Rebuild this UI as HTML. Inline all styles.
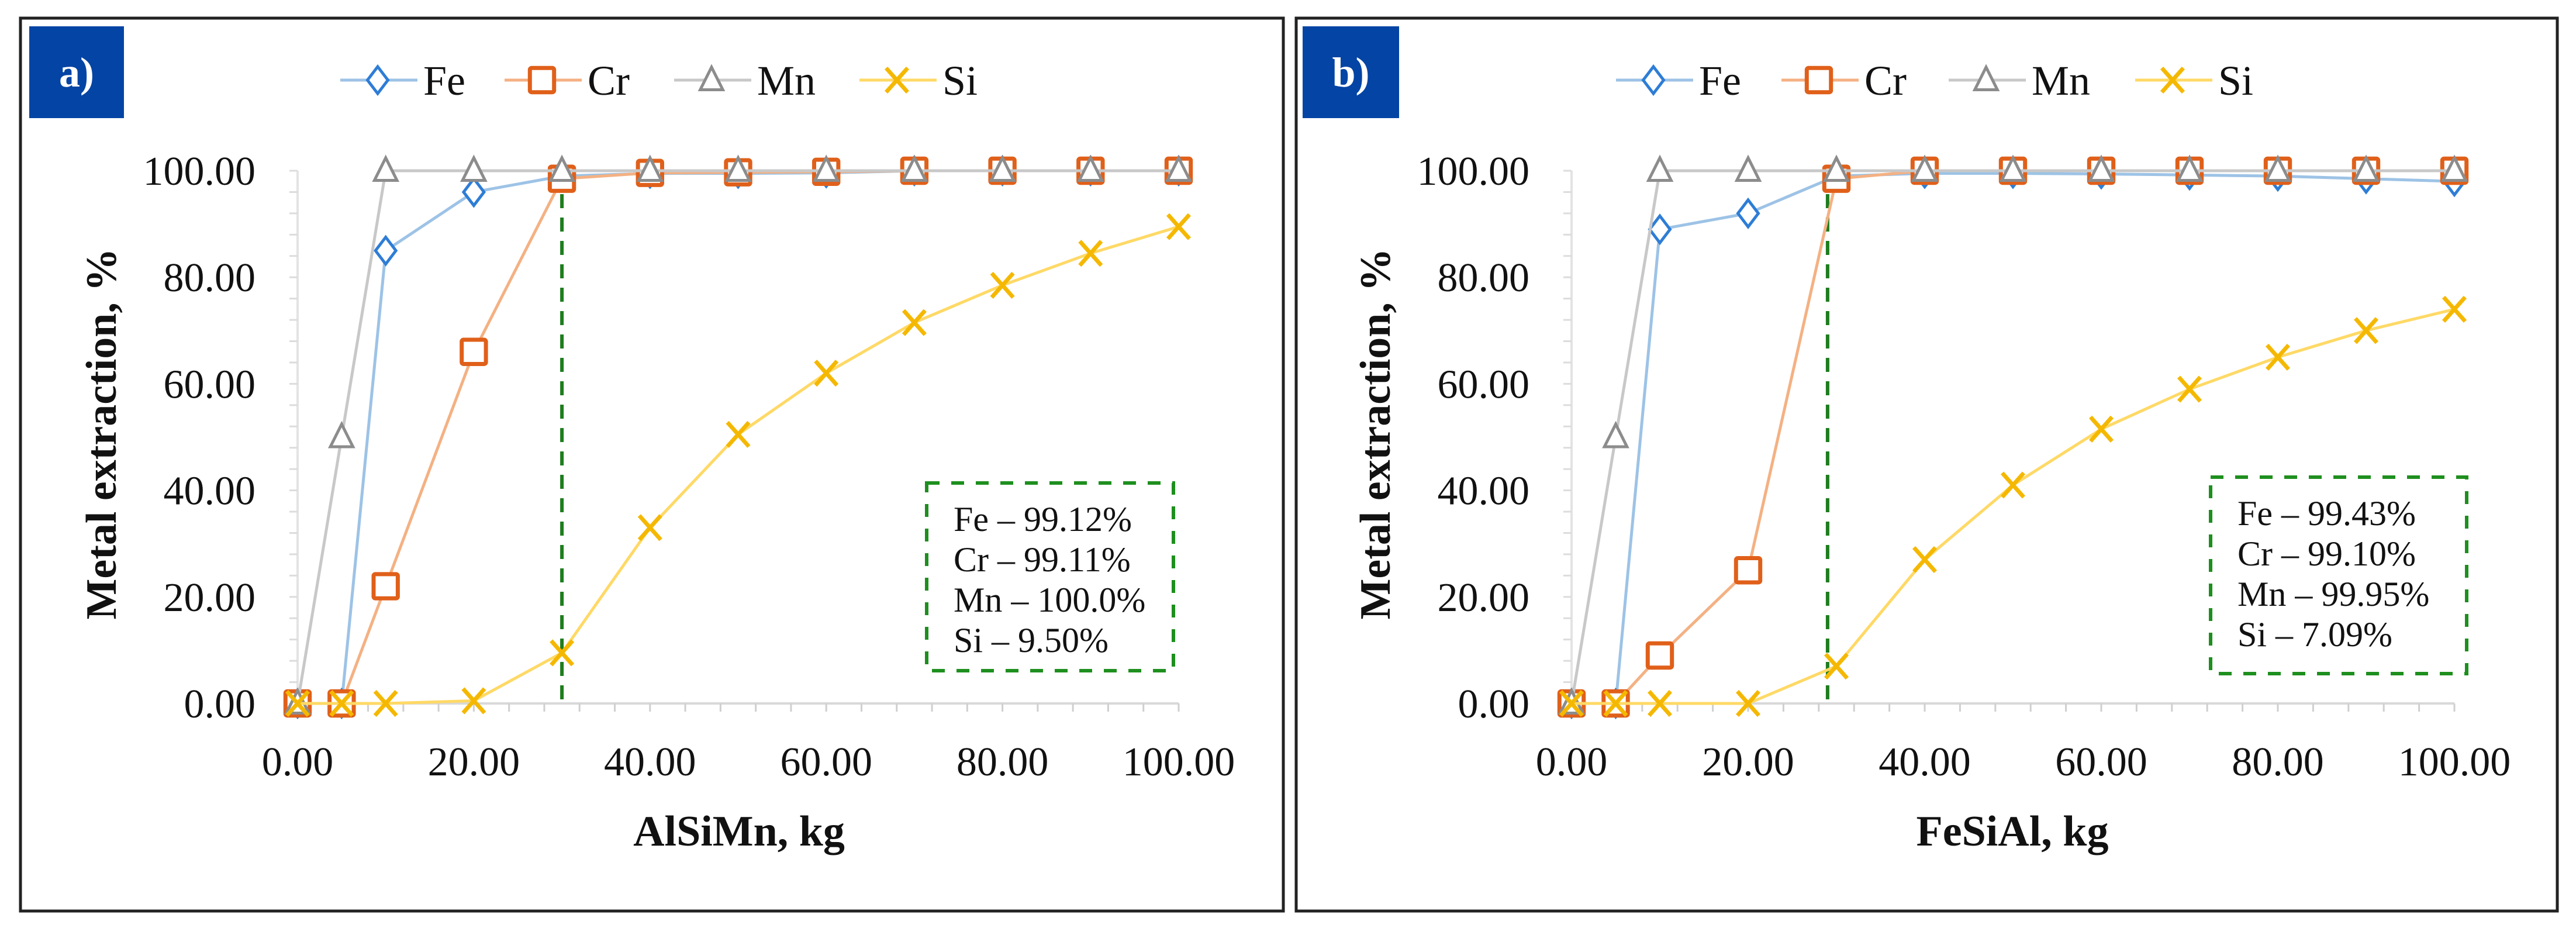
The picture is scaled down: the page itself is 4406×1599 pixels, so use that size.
<!DOCTYPE html>
<html><head><meta charset="utf-8"><style>
html,body{margin:0;padding:0;background:#fff;}
svg{display:block;font-family:"Liberation Serif",serif;}
</style></head><body>
<svg id="chart" width="4406" height="1599" viewBox="0 0 4406 1599" xmlns="http://www.w3.org/2000/svg"></svg>
<script>
const xValues = [0,5,10,20,30,40,50,60,70,80,90,100];
const feA = [0,0,85,96,99,99.5,99.5,99.6,100,100,100,100];
const crA = [0,0,22,66,98.5,99.6,99.7,99.8,100,100,100,100];
const mnA = [0,50,100,100,100,100,100,100,100,100,100,100];
const siA = [0,0,0,0.5,9.5,33,50.5,62,71.5,78.5,84.5,89.5];
const feB = [0,0,89,92,99,99.5,99.5,99.4,99.2,99,98.5,98];
const crB = [0,0,9,25,98.5,100,100,100,100,100,100,100];
const mnB = [0,50,100,100,100,100,100,100,100,100,100,100];
const siB = [0,0,0,0,7,27,41,51.5,59,65,70,74];
const tickLabels = ["0.00","20.00","40.00","60.00","80.00","100.00"];
const tickValues = [0,20,40,60,80,100];
const seriesNames = ["Fe","Cr","Mn","Si"];
const notesA = ["Fe – 99.12%","Cr – 99.11%","Mn – 100.0%","Si – 9.50%"];
const notesB = ["Fe – 99.43%","Cr – 99.10%","Mn – 99.95%","Si – 7.09%"];
const markerLineA = [30];
const markerLineB = [29];

const NS="http://www.w3.org/2000/svg";
const svg=document.getElementById('chart');
function mk(tag,attrs,parent,text){const e=document.createElementNS(NS,tag);for(const k in attrs)e.setAttribute(k,attrs[k]);if(text!==undefined)e.textContent=text;(parent||svg).appendChild(e);return e;}

const styles={
 Fe:{line:"#9dc3e6",mark:"#2e7dd6",shape:"diamond"},
 Cr:{line:"#f4b183",mark:"#e0601a",shape:"square"},
 Mn:{line:"#c8c8c8",mark:"#8c8c8c",shape:"triangle"},
 Si:{line:"#ffd966",mark:"#f5b800",shape:"x"}
};
function marker(g,shape,cx,cy,color,s){
 let e;
 if(shape==="diamond") e=mk('polygon',{points:`${cx},${cy-s*0.5} ${cx+s*0.38},${cy} ${cx},${cy+s*0.5} ${cx-s*0.38},${cy}`,fill:"#fff",stroke:color,'stroke-width':5},g);
 else if(shape==="square") e=mk('rect',{x:cx-s*0.45,y:cy-s*0.45,width:s*0.9,height:s*0.9,fill:"#fff",stroke:color,'stroke-width':7,rx:3},g);
 else if(shape==="triangle") e=mk('polygon',{points:`${cx},${cy-s*0.48} ${cx+s*0.42},${cy+s*0.36} ${cx-s*0.42},${cy+s*0.36}`,fill:"#fff",stroke:color,'stroke-width':5},g);
 else { e=mk('path',{d:`M${cx-s*0.4},${cy-s*0.45}L${cx+s*0.4},${cy+s*0.45}M${cx+s*0.4},${cy-s*0.45}L${cx-s*0.4},${cy+s*0.45}`,stroke:color,'stroke-width':7,fill:"none"},g);}
 return e;
}

function panel(cfg){
 const g=mk('g',{});
 
 
 const fr=mk('rect',{x:cfg.bx0,y:31,width:cfg.bx1-cfg.bx0,height:1527,fill:"none",stroke:"#222",'stroke-width':5},g);
 
 const lb=mk('rect',{x:cfg.lx0,y:45,width:cfg.lx1-cfg.lx0,height:157,fill:"#0444a4"},g);
 
 const lt=mk('text',{x:(cfg.lx0+cfg.lx1)/2,y:148,'text-anchor':'middle','font-size':72,'font-weight':'bold',fill:"#fff"},g,cfg.label);
 
 const X=v=>cfg.x0+(cfg.x1-cfg.x0)*v/100;
 const Y=v=>1203+(292-1203)*v/100;
 const ax=mk('line',{x1:X(0),y1:Y(0),x2:X(100),y2:Y(0),stroke:"#d9d9d9",'stroke-width':4},g);
 
 const ay=mk('line',{x1:X(0),y1:Y(0),x2:X(0),y2:Y(100),stroke:"#e3e3e3",'stroke-width':4},g);
 
 for(let v=0;v<=100;v+=4){
  mk('line',{x1:X(v),y1:Y(0),x2:X(v),y2:Y(0)+14,stroke:"#cfcfcf",'stroke-width':3},g);
  mk('line',{x1:X(0)-14,y1:Y(v),x2:X(0),y2:Y(v),stroke:"#dcdcdc",'stroke-width':3},g);
 }
 tickValues.forEach((v,i)=>{
  const t=mk('text',{x:X(0)-72,y:Y(v)+24,'text-anchor':'end','font-size':70,fill:"#111"},g,tickLabels[i]);
  
  const u=mk('text',{x:X(v),y:1326,'text-anchor':'middle','font-size':70,fill:"#111"},g,tickLabels[i]);
  
 });
 const xt=mk('text',{x:cfg.xtx,y:1446,'text-anchor':'middle','font-size':74,'font-weight':'bold',fill:"#111"},g,cfg.xtitle);
 
 const yt=mk('text',{x:0,y:0,'text-anchor':'middle','font-size':74,'font-weight':'bold',fill:"#111",transform:`translate(${cfg.ytx},742) rotate(-90)`},g,"Metal extraction, %");
 
 const dl=mk('line',{x1:X(cfg.vline[0]),y1:Y(100),x2:X(cfg.vline[0]),y2:Y(0),stroke:"#1e7d1e",'stroke-width':6,'stroke-dasharray':'24 16'},g);
 
 const order=["Fe","Cr","Mn","Si"];
 order.forEach(n=>{
  const vals=cfg.data[n],st=styles[n];
  const sg=mk('g',{},g);
  
  const pts=xValues.map((x,i)=>X(x)+','+Y(vals[i])).join(' ');
  const pl=mk('polyline',{points:pts,fill:"none",stroke:st.line,'stroke-width':5},sg);
  
  xValues.forEach((x,i)=>{
   const m=marker(sg,st.shape,X(x),Y(vals[i]),st.mark,46);
   
  });
 });
 seriesNames.forEach((n,i)=>{
  const st=styles[n],L=cfg.leg[i];
  const lg=mk('g',{},g);
  
  mk('line',{x1:L-64,y1:137,x2:L+68,y2:137,stroke:st.line,'stroke-width':5},lg);
  marker(lg,st.shape,L,137,st.mark,46);
  mk('text',{x:L+78,y:162,'font-size':72,fill:"#111"},lg,n);
 });
 const nb=mk('rect',{x:cfg.nb[0],y:cfg.nb[1],width:cfg.nb[2]-cfg.nb[0],height:cfg.nb[3]-cfg.nb[1],fill:"#fff",stroke:"#1e8f1e",'stroke-width':6,'stroke-dasharray':'22 20'},g);
 
 cfg.notes.forEach((s,i)=>{
  const t=mk('text',{x:cfg.nb[0]+46,y:cfg.nb[1]+82+i*69,'font-size':60,fill:"#111"},g,s);
  
 });
}
panel({id:'panel-a',label:'a)',bx0:35,bx1:2195,lx0:50,lx1:212,x0:509,x1:2016,xtx:1264,ytx:198,xtitle:'AlSiMn, kg',
 data:{Fe:feA,Cr:crA,Mn:mnA,Si:siA},leg:[646,927,1217,1534],nb:[1585,826,2007,1147],notes:notesA,vline:markerLineA});
panel({id:'panel-b',label:'b)',bx0:2217,bx1:4374,lx0:2228,lx1:2393,x0:2688,x1:4198,xtx:3442,ytx:2377,xtitle:'FeSiAl, kg',
 data:{Fe:feB,Cr:crB,Mn:mnB,Si:siB},leg:[2828,3111,3397,3716],nb:[3781,816,4219,1152],notes:notesB,vline:markerLineB});
</script>
</body></html>
